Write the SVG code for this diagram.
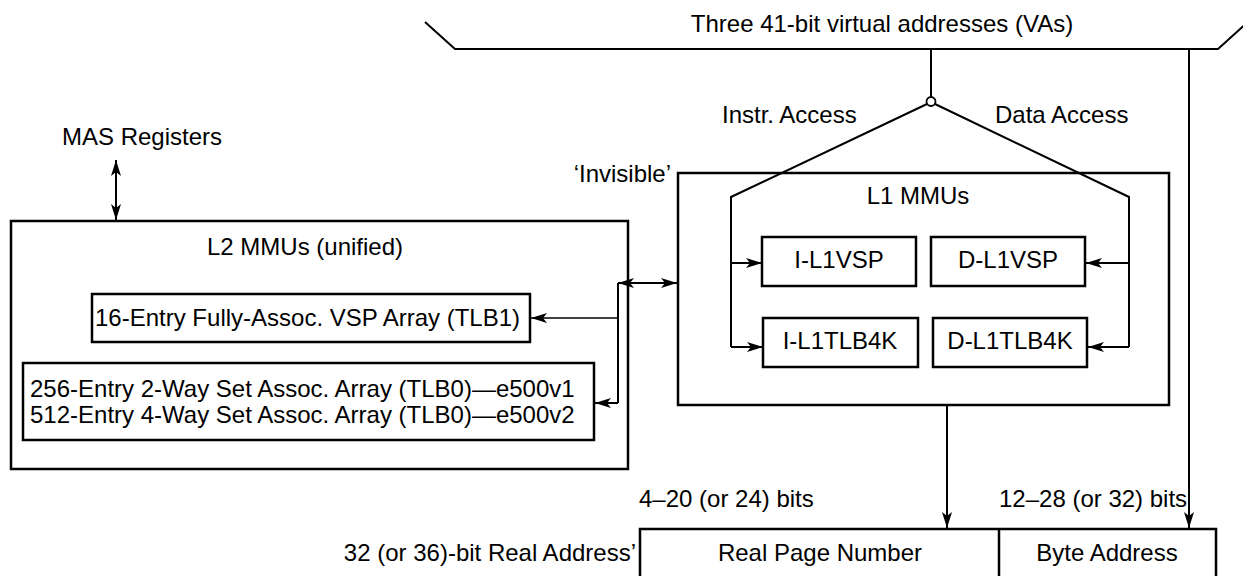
<svg xmlns="http://www.w3.org/2000/svg" width="1243" height="576" viewBox="0 0 1243 576">
<style>
text{font-family:"Liberation Sans",Arial,Helvetica,sans-serif;font-size:24px;fill:#000}
.box{fill:none;stroke:#000;stroke-width:2.5}
.ln{fill:none;stroke:#000;stroke-width:2}
.thin{fill:none;stroke:#000;stroke-width:1.5}
.arr{marker-end:url(#ah)}
.dbl{marker-start:url(#ah);marker-end:url(#ah)}
.c{text-anchor:middle}
.e{text-anchor:end}
</style>
<defs>
<marker id="ah" viewBox="0 0 16 10" refX="16" refY="5" markerWidth="16" markerHeight="10" orient="auto-start-reverse" markerUnits="userSpaceOnUse"><path d="M0,0 L16,5 L0,10 L4,5 z" fill="#000"/></marker>
</defs>
<rect width="1243" height="576" fill="#fff"/>
<g id="va-bus">
<polyline class="ln" points="425,22 455,49 1218,49 1249,21"/>
<text class="c" x="882" y="32">Three 41-bit virtual addresses (VAs)</text>
</g>
<g id="mas">
<text x="62" y="145">MAS Registers</text>
</g>
<g id="l2">
<rect class="box" x="11" y="221" width="617" height="248"/>
<text class="c" x="305" y="255">L2 MMUs (unified)</text>
</g>
<g id="tlb1">
<rect class="box" x="92" y="294" width="438" height="48"/>
<text x="95" y="326">16-Entry Fully-Assoc. VSP Array (TLB1)</text>
</g>
<g id="tlb0">
<rect class="box" x="23" y="363" width="571" height="77"/>
<text x="30" y="397">256-Entry 2-Way Set Assoc. Array (TLB0)—e500v1</text>
<text x="30" y="423">512-Entry 4-Way Set Assoc. Array (TLB0)—e500v2</text>
</g>
<g id="l1">
<rect class="box" x="678" y="173" width="491" height="232"/>
<text class="c" x="918" y="204">L1 MMUs</text>
<text class="e" x="671" y="182">‘Invisible’</text>
</g>
<g id="i-l1vsp">
<rect class="box" x="762" y="237" width="154" height="49"/>
<text class="c" x="839" y="268">I-L1VSP</text>
</g>
<g id="d-l1vsp">
<rect class="box" x="931" y="237" width="154" height="49"/>
<text class="c" x="1008" y="268">D-L1VSP</text>
</g>
<g id="i-l1tlb4k">
<rect class="box" x="763" y="318" width="155" height="49"/>
<text class="c" x="840" y="349">I-L1TLB4K</text>
</g>
<g id="d-l1tlb4k">
<rect class="box" x="933" y="318" width="154" height="49"/>
<text class="c" x="1010" y="349">D-L1TLB4K</text>
</g>
<g id="real-address">
<rect class="box" x="640" y="529" width="576" height="70"/>
<line class="box" x1="999" y1="529" x2="999" y2="599"/>
<text class="c" x="820" y="561">Real Page Number</text>
<text class="c" x="1107" y="561">Byte Address</text>
<text class="e" x="636" y="561">32 (or 36)-bit Real Address’</text>
<text x="639" y="507">4–20 (or 24) bits</text>
<text x="999" y="507">12–28 (or 32) bits</text>
</g>
<g id="connectors">
<line class="ln" x1="931" y1="49" x2="931" y2="97"/>
<circle cx="931" cy="101.5" r="4.5" fill="#fff" stroke="#000" stroke-width="1.8"/>
<polyline class="ln" points="927,104 731,197 731,347"/>
<polyline class="ln" points="935,104 1129,197 1129,347"/>
<text x="722" y="123">Instr. Access</text>
<text x="995" y="123">Data Access</text>
<line class="ln arr" x1="731" y1="263" x2="762" y2="263"/>
<line class="ln arr" x1="731" y1="347" x2="763" y2="347"/>
<line class="ln arr" x1="1129" y1="263" x2="1086" y2="263"/>
<line class="ln arr" x1="1129" y1="347" x2="1088" y2="347"/>
<line class="ln dbl" x1="618" y1="283" x2="677" y2="283"/>
<line class="ln" x1="618" y1="283" x2="618" y2="403"/>
<line class="thin arr" x1="618" y1="318" x2="531" y2="318"/>
<line class="ln arr" x1="618" y1="403" x2="595" y2="403"/>
<line class="ln dbl" x1="116" y1="160" x2="116" y2="220"/>
<line class="ln arr" x1="947" y1="405" x2="947" y2="528"/>
<line class="ln arr" x1="1189" y1="49" x2="1189" y2="528"/>
</g>
</svg>
